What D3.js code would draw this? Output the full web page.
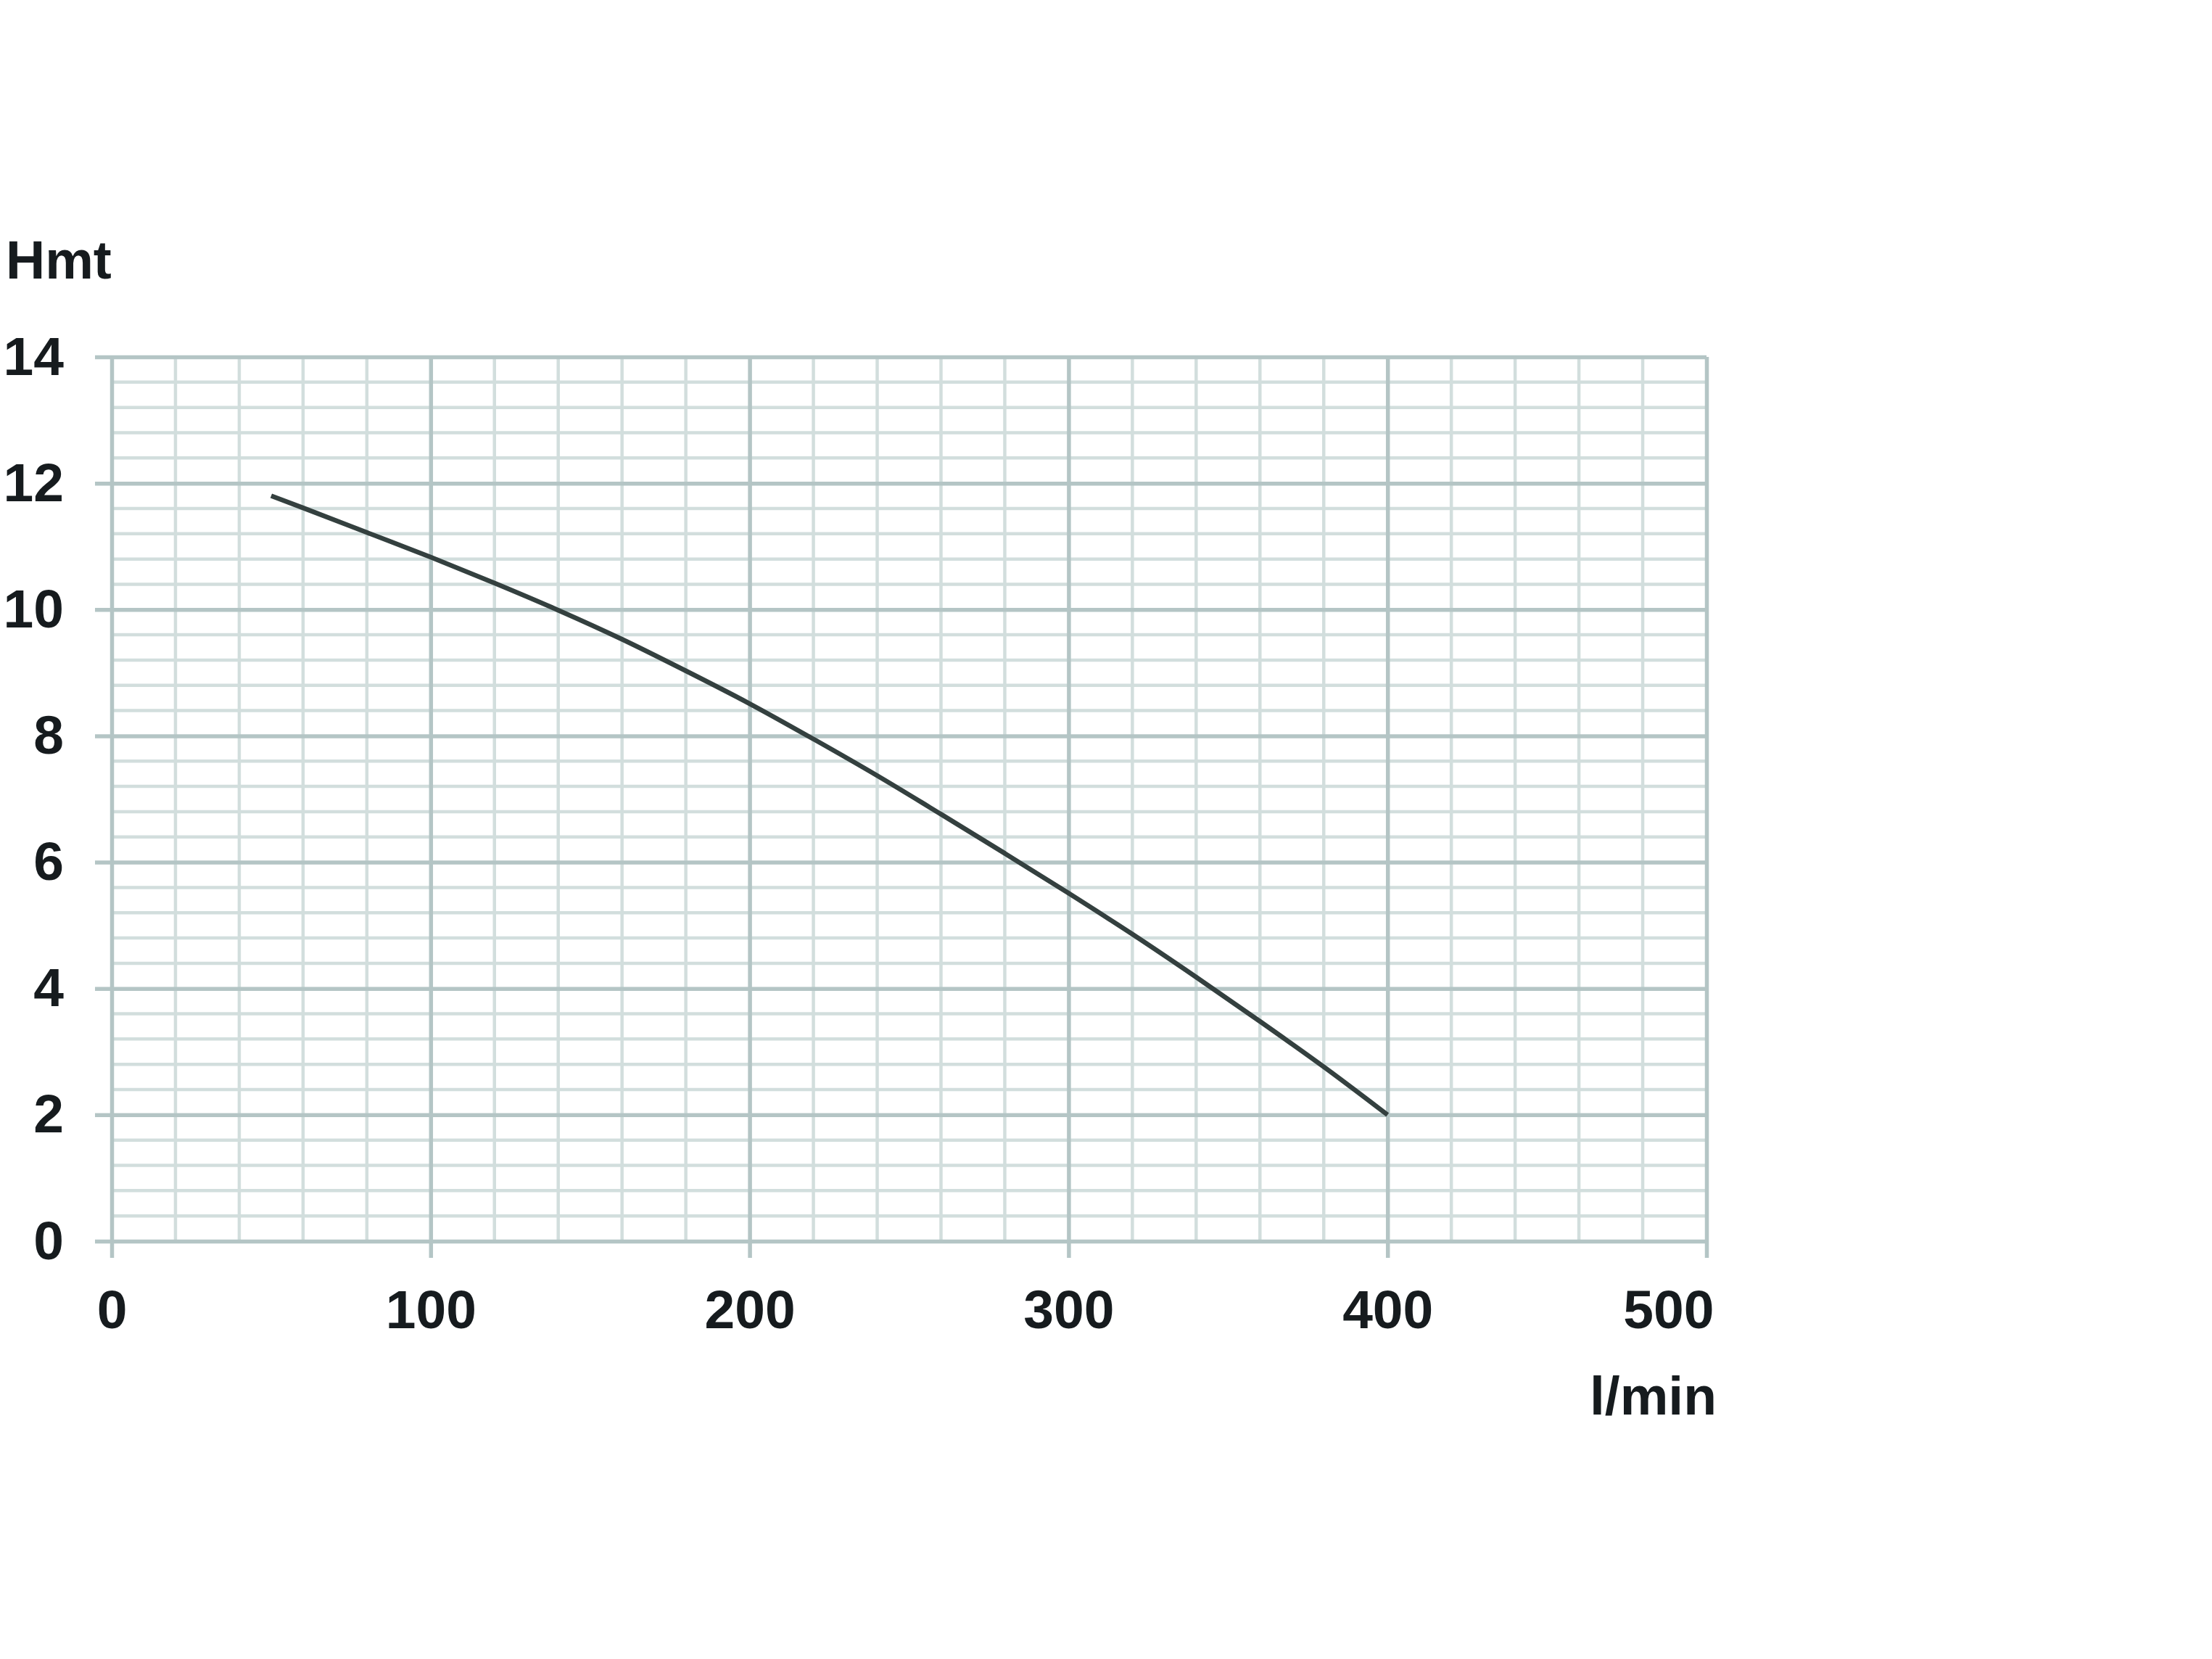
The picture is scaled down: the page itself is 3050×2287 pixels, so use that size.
<!DOCTYPE html>
<html>
<head>
<meta charset="utf-8">
<script src="https://cdn.jsdelivr.net/npm/d3@7"></script>
<style>
  html, body { margin: 0; padding: 0; background: #ffffff; }
  svg { display: block; }
  text { font-family: "Liberation Sans", Arial, sans-serif; font-weight: bold; fill: #161b1e; }
</style>
</head>
<body>
<svg id="chart" width="3050" height="2287"></svg>
<script>
// ---- data ----
const flowValues = [50, 60, 80, 100, 120, 140, 160, 180, 200, 220, 240, 260, 280, 300, 320, 340, 360, 380, 400];
const headValues = [11.8, 11.61, 11.22, 10.83, 10.42, 9.99, 9.53, 9.03, 8.51, 7.95, 7.37, 6.76, 6.14, 5.51, 4.86, 4.18, 3.48, 2.76, 2.0];
const xTickValues = [0, 100, 200, 300, 400, 500];
const yTickValues = [0, 2, 4, 6, 8, 10, 12, 14];
const xAxisTitle = "l/min";
const yAxisTitle = "Hmt";

(function () {
// ---- layout ----
const W = 3050, H = 2287;
const pL = 154, pR = 2353, pT = 492, pB = 1711;
const svg = d3.select("#chart");
svg.append("rect").attr("width", W).attr("height", H).attr("fill", "#ffffff");

const x = d3.scaleLinear().domain([0, 500]).range([pL, pR]);
const y = d3.scaleLinear().domain([0, 14]).range([pB, pT]);

const FONT = 75;
const majorColor = "#b4c5c5", minorColor = "#d2dedd";

// minor grid
const gMinor = svg.append("g");
gMinor.selectAll("line.vx")
  .data(d3.range(0, 501, 20).filter(v => v % 100 !== 0))
  .join("line")
  .attr("x1", d => x(d)).attr("x2", d => x(d))
  .attr("y1", pT).attr("y2", pB)
  .attr("stroke", minorColor).attr("stroke-width", 4.5);
gMinor.selectAll("line.hy")
  .data(d3.range(0, 71).filter(i => i % 2 === 0 && i % 10 !== 0).map(i => i * 0.2))
  .join("line")
  .attr("x1", pL).attr("x2", pR)
  .attr("y1", d => y(d)).attr("y2", d => y(d))
  .attr("stroke", minorColor).attr("stroke-width", 4.5);

// major grid + labels via axes
const tickOut = 23;
const yAxis = d3.axisLeft(y)
  .tickValues(yTickValues)
  .tickFormat(d3.format("d"))
  .tickSizeInner(-(pR - pL + tickOut))
  .tickSizeOuter(0)
  .tickPadding(43);
const gy = svg.append("g").attr("transform", `translate(${pL - tickOut},0)`).call(yAxis);
gy.select(".domain").remove();
gy.selectAll(".tick line").attr("stroke", majorColor).attr("stroke-width", 5.5);
gy.selectAll(".tick text").attr("font-size", FONT).attr("fill", "#161b1e")
  .attr("font-family", "Liberation Sans, Arial, sans-serif").attr("font-weight", "bold");

const xAxis = d3.axisBottom(x)
  .tickValues(xTickValues)
  .tickFormat(d3.format("d"))
  .tickSizeInner(-(pB + tickOut - pT))
  .tickSizeOuter(0)
  .tickPadding(44);
const gx = svg.append("g").attr("transform", `translate(0,${pB + tickOut})`).call(xAxis);
gx.select(".domain").remove();
gx.selectAll(".tick line").attr("stroke", majorColor).attr("stroke-width", 5.5);
gx.selectAll(".tick text").attr("font-size", FONT).attr("fill", "#161b1e")
  .attr("font-family", "Liberation Sans, Arial, sans-serif").attr("font-weight", "bold");
gx.selectAll(".tick text").filter(d => d === 500).attr("text-anchor", "end").attr("x", 10);

// curve
const pts = flowValues.map((v, i) => [v, headValues[i]]);
const line = d3.line().x(d => x(d[0])).y(d => y(d[1])).curve(d3.curveMonotoneX);
svg.append("path").datum(pts)
  .attr("d", line)
  .attr("fill", "none")
  .attr("stroke", "#34403f")
  .attr("stroke-width", 6.5)
  .attr("stroke-linejoin", "round")
  .attr("stroke-linecap", "butt");

// axis titles
svg.append("text").attr("x", 8).attr("y", 384).attr("font-size", FONT).text(yAxisTitle);
svg.append("text").attr("x", 2367).attr("y", 1950).attr("text-anchor", "end").attr("font-size", FONT).text(xAxisTitle);
})();
</script>
</body>
</html>
